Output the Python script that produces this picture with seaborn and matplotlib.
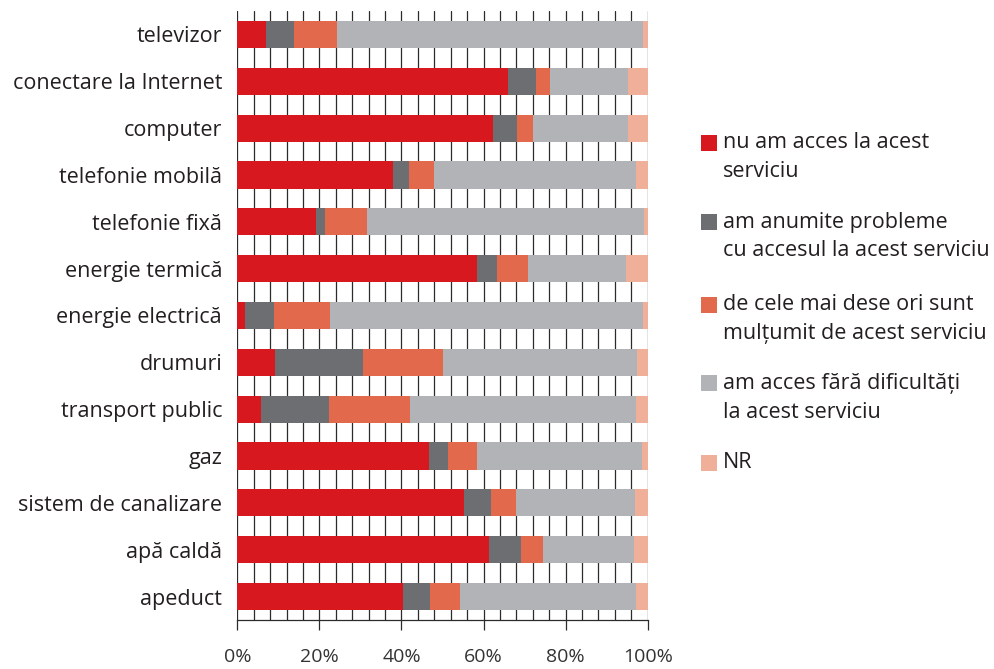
import matplotlib
matplotlib.use("Agg")
import matplotlib.pyplot as plt
import seaborn as sns
import pandas as pd
import numpy as np
from matplotlib.ticker import MultipleLocator, FixedLocator
from matplotlib.patches import Rectangle

categories = ["televizor", "conectare la Internet", "computer", "telefonie mobilă",
              "telefonie fixă", "energie termică", "energie electrică", "drumuri",
              "transport public", "gaz", "sistem de canalizare", "apă caldă", "apeduct"]

nu_am_acces = [7.0, 66.0, 62.3, 37.9, 19.2, 58.4, 1.9, 9.2, 5.8, 46.7, 55.2, 61.3, 40.4]
probleme    = [6.8, 6.8, 5.9, 3.9, 2.2, 4.9, 7.0, 21.4, 16.5, 4.6, 6.6, 7.8, 6.6]
multumit    = [10.5, 3.4, 3.9, 6.1, 10.2, 7.5, 13.7, 19.5, 19.8, 7.1, 6.1, 5.4, 7.3]
fara_dific  = [74.6, 19.0, 23.1, 49.3, 67.4, 23.9, 76.3, 47.3, 55.1, 40.2, 29.0, 22.2, 42.9]
nr          = [1.1, 4.8, 4.8, 2.8, 1.0, 5.3, 1.1, 2.6, 2.8, 1.4, 3.1, 3.3, 2.8]

series_labels = ["nu am acces la acest\nserviciu",
                 "am anumite probleme\ncu accesul la acest serviciu",
                 "de cele mai dese ori sunt\nmulțumit de acest serviciu",
                 "am acces fără dificultăți\nla acest serviciu",
                 "NR"]
colors = ["#D7181F", "#6D6E72", "#E3694D", "#B2B3B6", "#EFAF98"]
xticks = [0, 20, 40, 60, 80, 100]
xticklabels = ["0%", "20%", "40%", "60%", "80%", "100%"]

sns.set_theme(style="white")
plt.rcParams['font.family'] = ['Open Sans', 'DejaVu Sans']

series = [nu_am_acces, probleme, multumit, fara_dific, nr]
arr = np.array(series)
cum = np.cumsum(arr, axis=0)
cum = cum / cum[-1:] * 100.0

fig = plt.figure(figsize=(9.94, 6.69), dpi=100)
ax = fig.add_axes([237.3 / 994, 49 / 669, 410.4 / 994, 609 / 669])

for i in range(len(series) - 1, -1, -1):
    df = pd.DataFrame({"cat": categories, "val": cum[i]})
    sns.barplot(data=df, y="cat", x="val", orient="h", color=colors[i],
                saturation=1, width=0.58, linewidth=0, ax=ax, zorder=2)

ax.set_xlim(0, 100)
ax.set_ylim(len(categories) - 0.5, -0.5)
ax.set_xlabel("")
ax.set_ylabel("")

ax.xaxis.set_major_locator(FixedLocator(xticks))
ax.set_xticklabels(xticklabels)
ax.xaxis.set_minor_locator(MultipleLocator(4))
ax.grid(False)
ax.grid(True, axis="x", which="both", color="#2b2b2b", linewidth=0.9, zorder=0)
ax.set_axisbelow(True)

for s in ["top", "right", "left"]:
    ax.spines[s].set_visible(False)
ax.spines["bottom"].set_color("#2b2b2b")
ax.spines["bottom"].set_linewidth(0.9)

ax.tick_params(axis="x", which="major", direction="out", length=7, width=0.9,
               color="#2b2b2b", pad=13, labelsize=14, labelcolor="#333333", bottom=True)
ax.tick_params(axis="x", which="minor", length=0)
ax.tick_params(axis="y", length=0, pad=11, labelsize=15.5, labelcolor="#231F20")

# legend
H = 669.0
first_line_y = [143, 222, 305, 383, 463]
for lab, col, yc in zip(series_labels, colors, first_line_y):
    fig.patches.append(Rectangle((701 / 994, 1 - (yc + 8) / H), 16 / 994, 16 / H,
                                 transform=fig.transFigure, facecolor=col,
                                 edgecolor="none", figure=fig))
    lines = lab.split("\n")
    for k, ln in enumerate(lines):
        fig.text(723 / 994, 1 - (yc + k * 29) / H, ln, ha="left", va="center",
                 fontsize=15.5, color="#231F20")

fig.savefig("out.png", dpi=100)
